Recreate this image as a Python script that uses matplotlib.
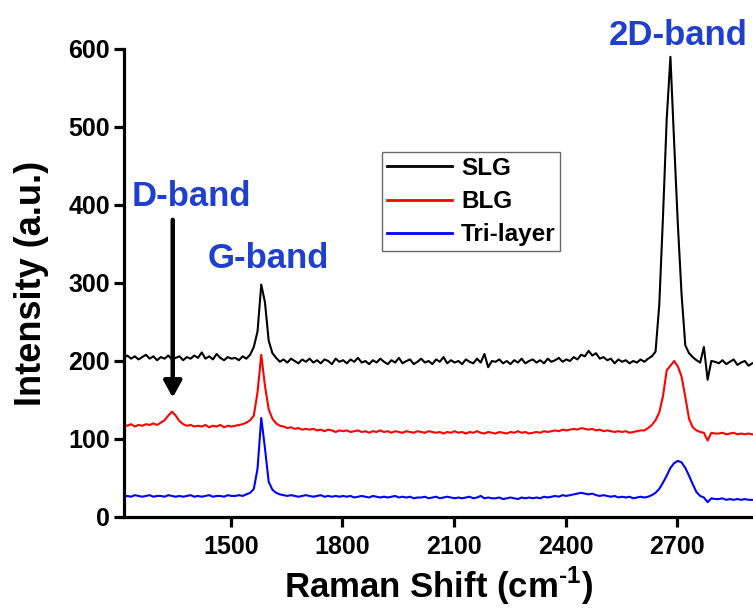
import numpy as np
import matplotlib
matplotlib.use("Agg")
import matplotlib.pyplot as plt

plt.rcParams['font.family'] = ['Liberation Sans', 'DejaVu Sans']
plt.rcParams['font.weight'] = 'bold'
plt.rcParams['mathtext.fontset'] = 'custom'
plt.rcParams['mathtext.rm'] = 'Liberation Sans:bold'
plt.rcParams['mathtext.bf'] = 'Liberation Sans:bold'

# Raman shift grid (cm-1), one reading every 10 cm-1
shift = np.arange(1212, 2903, 10)

slg = [
    204, 207, 203, 206, 202, 205, 208, 203, 206, 201,
    205, 203, 207, 202, 204, 206, 201, 205, 203, 207,
    204, 211, 203, 206, 202, 209, 204, 201, 205, 203,
    204, 201, 206, 203, 208, 218, 238, 298, 275, 226,
    210, 204, 199, 202, 198, 203, 200, 197, 202, 199,
    203, 198, 201, 197, 202, 200, 196, 203, 199, 201,
    197, 202, 199, 204, 198, 200, 196, 201, 198, 203,
    199, 196, 201, 198, 204, 197, 200, 202, 196, 199,
    203, 198, 200, 196, 202, 199, 205, 197, 201, 198,
    200, 196, 202, 199, 197, 203, 198, 209, 192, 200,
    199, 202, 197, 200, 196, 201, 198, 203, 197, 200,
    202, 198, 201, 197, 203, 199, 201, 204, 199, 202,
    200, 205, 202, 208, 206, 213, 207, 210, 203, 205,
    201, 203, 197, 202, 199, 201, 197, 200, 198, 202,
    199, 203, 206, 212, 272, 385, 510, 590, 480, 375,
    285, 220, 210, 205, 201, 198, 218, 176, 200, 199,
    197, 201, 196, 199, 202, 195, 198, 200, 194, 197,
]

blg = [
    118, 117, 119, 116, 118, 117, 119, 118, 120, 118,
    121, 124, 130, 135, 130, 123, 119, 117, 118, 116,
    117, 116, 118, 115, 117, 116, 118, 115, 117, 116,
    117, 118, 119, 121, 124, 130, 160, 208, 168, 138,
    126, 120, 117, 116, 114, 115, 113, 114, 112, 113,
    112, 113, 111, 112, 110, 112, 111, 109, 111, 110,
    111, 109, 110, 111, 109, 110, 108, 110, 109, 111,
    109, 110, 108, 110, 109, 108, 110, 109, 108, 110,
    109, 108, 110, 109, 108, 109, 107, 109, 108, 110,
    108, 109, 107, 109, 108, 110, 108, 107, 109, 108,
    107, 109, 108, 107, 109, 108, 110, 108, 109, 107,
    108, 109, 108, 110, 109, 110, 111, 110, 112, 111,
    112, 113, 112, 114, 113, 112, 113, 111, 112, 110,
    111, 110, 109, 110, 109, 110, 108, 109, 110, 111,
    111, 114, 118, 124, 134, 155, 188, 194, 200, 193,
    180, 154, 126, 115, 111, 109, 108, 98, 108, 107,
    107, 108, 106, 107, 108, 106, 107, 106, 107, 106,
]

tri = [
    26, 27, 26, 28, 27, 26, 27, 28, 26, 27,
    27, 26, 28, 27, 26, 27, 26, 27, 28, 26,
    27, 26, 27, 28, 26, 27, 27, 26, 28, 27,
    27, 28, 27, 29, 31, 36, 62, 127, 88, 45,
    35, 31, 29, 28, 27, 28, 27, 26, 27, 28,
    27, 26, 27, 28, 26, 27, 26, 27, 26, 27,
    26, 27, 25, 26, 27, 26, 25, 27, 26, 25,
    26, 25, 26, 27, 25, 26, 25, 26, 24, 25,
    25, 26, 24, 25, 26, 24, 25, 26, 25, 24,
    25, 24, 25, 26, 24, 25, 27, 24, 25, 24,
    24, 25, 23, 24, 25, 24, 23, 25, 24, 25,
    24, 25, 24, 26, 25, 26, 27, 26, 28, 27,
    28, 29, 30, 31, 30, 29, 30, 28, 27, 28,
    27, 26, 27, 25, 26, 25, 26, 24, 25, 26,
    25, 26, 28, 31, 36, 44, 53, 63, 69, 72,
    70, 63, 53, 42, 32, 27, 25, 19, 24, 23,
    23, 24, 22, 23, 22, 23, 22, 23, 22, 22,
]

labels = ['SLG', 'BLG', 'Tri-layer']
colors = ['black', 'red', 'blue']
xticks = [1500, 1800, 2100, 2400, 2700]
yticks = [0, 100, 200, 300, 400, 500, 600]
band_blue = '#1f3fcf'

fig = plt.figure(figsize=(7.53, 6.08), dpi=100)
ax = fig.add_axes([124 / 753, 91 / 608, 629 / 753, 468 / 608])

for series, lab, col in zip([slg, blg, tri], labels, colors):
    ax.plot(shift, series, color=col, lw=1.5, label=lab)

ax.set_xlim(1213, 2904)
ax.set_ylim(0, 600)
ax.set_xticks(xticks)
ax.set_yticks(yticks)
ax.spines['top'].set_visible(False)
ax.spines['right'].set_visible(False)
for s in ['left', 'bottom']:
    ax.spines[s].set_linewidth(2.3)
ax.tick_params(axis='both', width=2.3, length=7, labelsize=18)
ax.tick_params(axis='x', pad=6)
ax.tick_params(axis='y', pad=3)

ax.set_xlabel(r'Raman Shift (cm$^{\text{-1}}$)', fontsize=25, fontweight='bold', labelpad=4)
ax.set_ylabel('Intensity (a.u.)', fontsize=26, fontweight='bold', labelpad=14)

ax.text(1395, 399, 'D-band', color=band_blue, fontsize=25, fontweight='bold', ha='center', va='baseline')
ax.text(1602, 319, 'G-band', color=band_blue, fontsize=25, fontweight='bold', ha='center', va='baseline')
ax.text(2703, 605, '2D-band', color=band_blue, fontsize=25, fontweight='bold', ha='center', va='baseline',
        clip_on=False)

ax.annotate('', xy=(1344, 153), xytext=(1344, 381),
            arrowprops=dict(arrowstyle='-|>,head_length=0.55,head_width=0.3', lw=3.2,
                            color='black', mutation_scale=18, shrinkA=0, shrinkB=0))

leg = ax.legend(loc='upper left', bbox_to_anchor=(0.41, 0.78), borderaxespad=0,
                fontsize=17.5, frameon=True, fancybox=False, handlelength=2.7,
                handletextpad=0.35, labelspacing=0.42, borderpad=0.2)
leg.get_frame().set_edgecolor('#444444')
leg.get_frame().set_linewidth(1.0)
for line in leg.get_lines():
    line.set_linewidth(2.0)

fig.savefig('out.png', dpi=100)
